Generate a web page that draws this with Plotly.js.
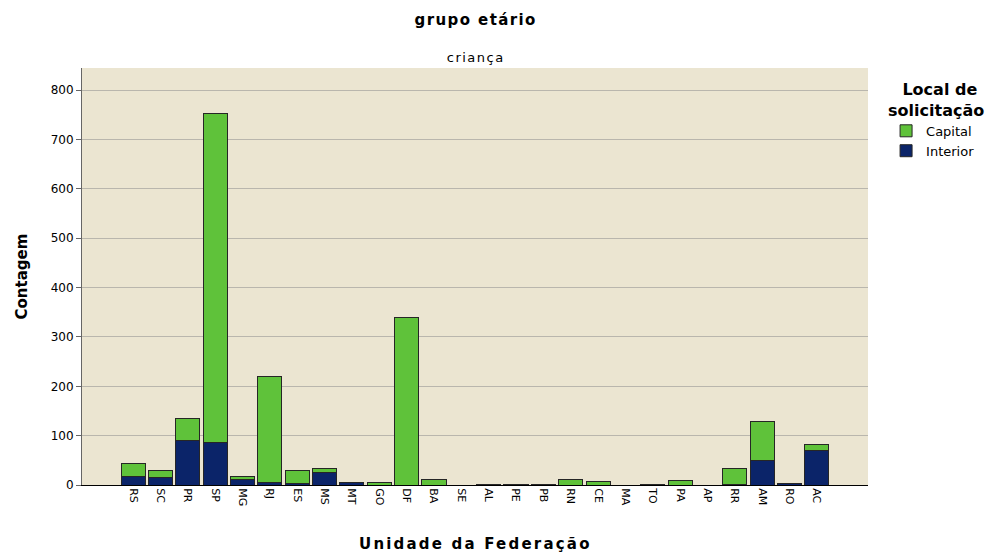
<!DOCTYPE html>
<html>
<head>
<meta charset="utf-8">
<script src="https://cdn.plot.ly/plotly-3.0.1.min.js"></script>
<style>
html,body{margin:0;padding:0;background:#fff;}
#chart{width:994px;height:553px;}
#chart .annotation[data-index="0"] text{letter-spacing:1.4px;}
#chart .annotation[data-index="1"] text{letter-spacing:1.5px;}
#chart .annotation[data-index="2"] text{letter-spacing:2.2px;}
</style>
</head>
<body>
<div id="chart"></div>
<script>
const states = ['RS','SC','PR','SP','MG','RJ','ES','MS','MT','GO','DF','BA','SE','AL','PE','PB','RN','CE','MA','TO','PA','AP','RR','AM','RO','AC'];
const interior = [17,15,90,86,11,5,4,26,6,0,0,0,0,0,0,0,0,0,0,0,0,0,2,49,4,70];
const capital  = [26,15,44,667,7,214,26,7,0,6,339,11,0,1,2,1,11,7,0,1,9,0,31,79,0,12];
const yTicks = [0,100,200,300,400,500,600,700,800];

const F = 'DejaVu Sans, Liberation Sans, Arial, sans-serif';
const traces = [
  {type:'bar', name:'Interior', x:states, y:interior,
   marker:{color:'#0b2469', line:{color:'#262626', width:1}}},
  {type:'bar', name:'Capital', x:states, y:capital,
   marker:{color:'#5fc23a', line:{color:'#262626', width:1}}}
];
const layout = {
  width:994, height:553,
  margin:{l:82, r:126, t:68, b:68, autoexpand:false},
  paper_bgcolor:'#ffffff', plot_bgcolor:'#ebe5d1',
  barmode:'stack', bargap:0.12,
  font:{family:F, size:12, color:'#000'},
  showlegend:true,
  legend:{x:1.023, xanchor:'left', y:0.985, yanchor:'top', traceorder:'reversed',
    title:{text:'<b>&nbsp;&nbsp;&#8201;Local de<br>solicitação</b>', font:{size:16, family:F}, side:'top'},
    font:{size:13, family:F}, itemwidth:30, tracegroupgap:0, bgcolor:'rgba(0,0,0,0)'},
  xaxis:{type:'category', range:[-1.87, 26.87], tickangle:90, showgrid:false,
    showline:true, linecolor:'#000', linewidth:1, ticks:'', tickfont:{size:11, family:F},
    zeroline:false, fixedrange:true},
  yaxis:{range:[0,845], tickvals:yTicks, ticktext:yTicks.map(String), showgrid:true,
    gridcolor:'#b9b6ad', gridwidth:1, showline:true, linecolor:'#666', linewidth:1,
    ticks:'outside', ticklen:5, tickcolor:'#666', tickfont:{size:12, family:F},
    zeroline:false, fixedrange:true},
  annotations:[
    {text:'<b>grupo etário</b>', xref:'paper', yref:'paper', x:0.5, y:1, yanchor:'middle',
     yshift:(68-20), showarrow:false, font:{size:15, family:F}},
    {text:'criança', xref:'paper', yref:'paper', x:0.5, y:1, yanchor:'middle',
     yshift:(68-57), showarrow:false, font:{size:13, family:F}},
    {text:'<b>Unidade da Federação</b>', xref:'paper', yref:'paper', x:0.5, y:0, yanchor:'middle',
     yshift:-(544-485), showarrow:false, font:{size:15, family:F}},
    {text:'<b>Contagem</b>', xref:'paper', yref:'paper', x:0, y:0.5, xanchor:'center',
     xshift:-(82-21), textangle:-90, showarrow:false, font:{size:15, family:F}}
  ]
};
Plotly.newPlot('chart', traces, layout, {displayModeBar:false, staticPlot:true});
</script>
</body>
</html>
